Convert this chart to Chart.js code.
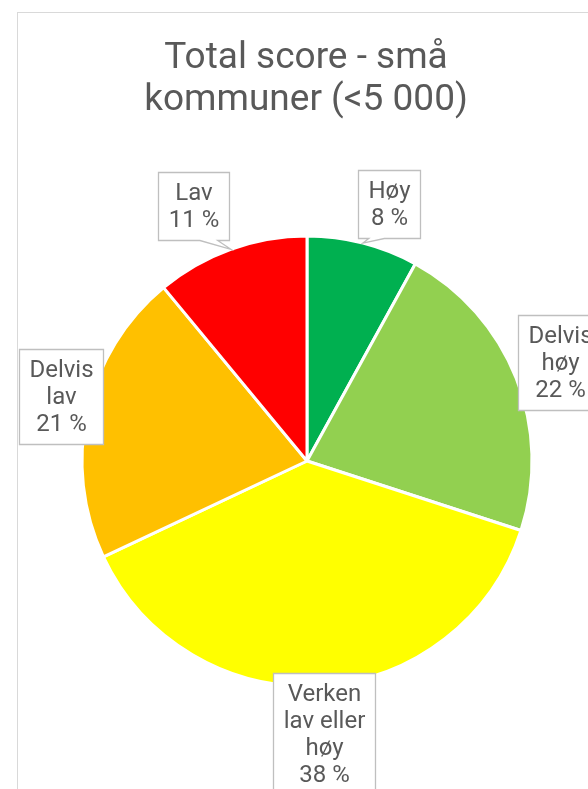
<!DOCTYPE html>
<html>
<head>
<meta charset="utf-8">
<script src="https://cdn.jsdelivr.net/npm/chart.js@4/dist/chart.umd.min.js"></script>
<style>
  html, body { margin: 0; padding: 0; overflow: hidden; background: #fff; }
  #frame { position: absolute; left: 17px; top: 12px; width: 578px; height: 800px; border: 1px solid #d9d9d9; }
  canvas { display: block; }
</style>
</head>
<body>
<div id="frame"><canvas id="chart-score" width="578" height="800"></canvas></div>
<script>
const titleLines = ["Total score - små", "kommuner (<5 000)"];
const categories = ["Høy", "Delvis høy", "Verken lav eller høy", "Delvis lav", "Lav"];
const shares = [8, 22, 38, 21, 11];
const sliceColors = ["#00B050", "#92D050", "#FFFF00", "#FFC000", "#FF0000"];

const textColor = "#595959";

function wrapText(ctx, text, maxWidth) {
  const words = text.split(" ");
  const lines = [];
  let current = "";
  words.forEach((word) => {
    const test = current ? `${current} ${word}` : word;
    if (current && ctx.measureText(test).width > maxWidth) {
      lines.push(current);
      current = word;
    } else {
      current = test;
    }
  });
  if (current) lines.push(current);
  return lines;
}

// rectangle callout, wedge placed like Excel's wedgeRectCallout
function calloutPath(ctx, l, t, w, h, tip) {
  const r = l + w;
  const b = t + h;
  ctx.beginPath();
  ctx.moveTo(l, t);
  if (!tip) {
    ctx.lineTo(r, t);
    ctx.lineTo(r, b);
    ctx.lineTo(l, b);
    ctx.closePath();
    return;
  }
  const dxPos = tip.x - (l + w / 2);
  const dyPos = tip.y - (t + h / 2);
  const vertical = Math.abs(dyPos) - Math.abs((dxPos * h) / w) > 0;
  const x1 = l + (w * (dxPos > 0 ? 7 : 2)) / 12;
  const x2 = l + (w * (dxPos > 0 ? 10 : 5)) / 12;
  const y1 = t + (h * (dyPos > 0 ? 7 : 2)) / 12;
  const y2 = t + (h * (dyPos > 0 ? 10 : 5)) / 12;
  if (vertical && dyPos < 0) {
    ctx.lineTo(x1, t);
    ctx.lineTo(tip.x, tip.y);
    ctx.lineTo(x2, t);
  }
  ctx.lineTo(r, t);
  if (!vertical && dxPos > 0) {
    ctx.lineTo(r, y1);
    ctx.lineTo(tip.x, tip.y);
    ctx.lineTo(r, y2);
  }
  ctx.lineTo(r, b);
  if (vertical && dyPos > 0) {
    ctx.lineTo(x2, b);
    ctx.lineTo(tip.x, tip.y);
    ctx.lineTo(x1, b);
  }
  ctx.lineTo(l, b);
  if (!vertical && dxPos < 0) {
    ctx.lineTo(l, y2);
    ctx.lineTo(tip.x, tip.y);
    ctx.lineTo(l, y1);
  }
  ctx.closePath();
}

const calloutLabels = {
  id: "calloutLabels",
  afterDatasetsDraw(chart, args, opts) {
    const ctx = chart.ctx;
    const meta = chart.getDatasetMeta(0);
    ctx.save();
    ctx.font = `${opts.fontSize}px Roboto`;
    meta.data.forEach((arc, i) => {
      const { x, y, startAngle, endAngle, outerRadius } = arc.getProps(
        ["x", "y", "startAngle", "endAngle", "outerRadius"],
        true
      );
      const mid = (startAngle + endAngle) / 2;
      const lines = wrapText(ctx, categories[i], opts.wrapWidth).concat(`${shares[i]} %`);
      const textW = Math.max(...lines.map((l) => ctx.measureText(l).width));
      const w = Math.round(textW + opts.padX * 2);
      const h = lines.length * opts.lineHeight + opts.padY * 2;
      const nudge = opts.nudges[i] || [0, 0];
      const cx = x + Math.cos(mid) * (outerRadius + opts.distance) + nudge[0];
      const cy = y + Math.sin(mid) * (outerRadius + opts.distance) + nudge[1];
      // keep inside the left frame edge; the right side runs off the page anyway
      const left = Math.round(Math.max(1, cx - w / 2)) + 0.5;
      const top = Math.round(cy - h / 2) + 0.5;

      const tip = { x: x + Math.cos(mid) * outerRadius, y: y + Math.sin(mid) * outerRadius };
      const outX = Math.max(left - tip.x, 0, tip.x - (left + w));
      const outY = Math.max(top - tip.y, 0, tip.y - (top + h));
      const needTail = Math.max(outX, outY) > 3;

      calloutPath(ctx, left, top, w, h, needTail ? tip : null);
      ctx.fillStyle = "#ffffff";
      ctx.fill();
      ctx.lineWidth = 1.3;
      ctx.strokeStyle = "#BFBFBF";
      ctx.stroke();

      ctx.fillStyle = textColor;
      ctx.textAlign = "center";
      ctx.textBaseline = "middle";
      lines.forEach((line, k) => {
        ctx.fillText(line, left + w / 2, top + opts.padY + opts.lineHeight * (k + 0.5) + 1);
      });
    });
    ctx.restore();
  }
};

const chartTitle = {
  id: "chartTitle",
  afterDraw(chart, args, opts) {
    const ctx = chart.ctx;
    ctx.save();
    ctx.font = `${opts.size}px Roboto`;
    ctx.fillStyle = textColor;
    ctx.textAlign = "center";
    ctx.textBaseline = "alphabetic";
    titleLines.forEach((line, k) => {
      ctx.fillText(line, opts.x, opts.baseline + k * opts.lineHeight);
    });
    ctx.restore();
  }
};

const ctx = document.getElementById("chart-score").getContext("2d");
new Chart(ctx, {
  type: "pie",
  data: {
    labels: categories,
    datasets: [
      {
        data: shares,
        backgroundColor: sliceColors,
        borderColor: "#ffffff",
        borderWidth: 3,
        radius: 225
      }
    ]
  },
  options: {
    responsive: false,
    animation: false,
    layout: { padding: { top: 96, bottom: 0, left: 0, right: 0 } },
    plugins: {
      legend: { display: false },
      tooltip: { enabled: false },
      title: { display: false },
      chartTitle: { x: 288, baseline: 55, lineHeight: 42, size: 37 },
      calloutLabels: {
        fontSize: 24,
        lineHeight: 27,
        padX: 10,
        padY: 7,
        wrapWidth: 88,
        distance: 42,
        nudges: [[16, 2], [5, 0], [0, 7], [0, -6], [-23, -4]]
      }
    }
  },
  plugins: [calloutLabels, chartTitle]
});
</script>
</body>
</html>
